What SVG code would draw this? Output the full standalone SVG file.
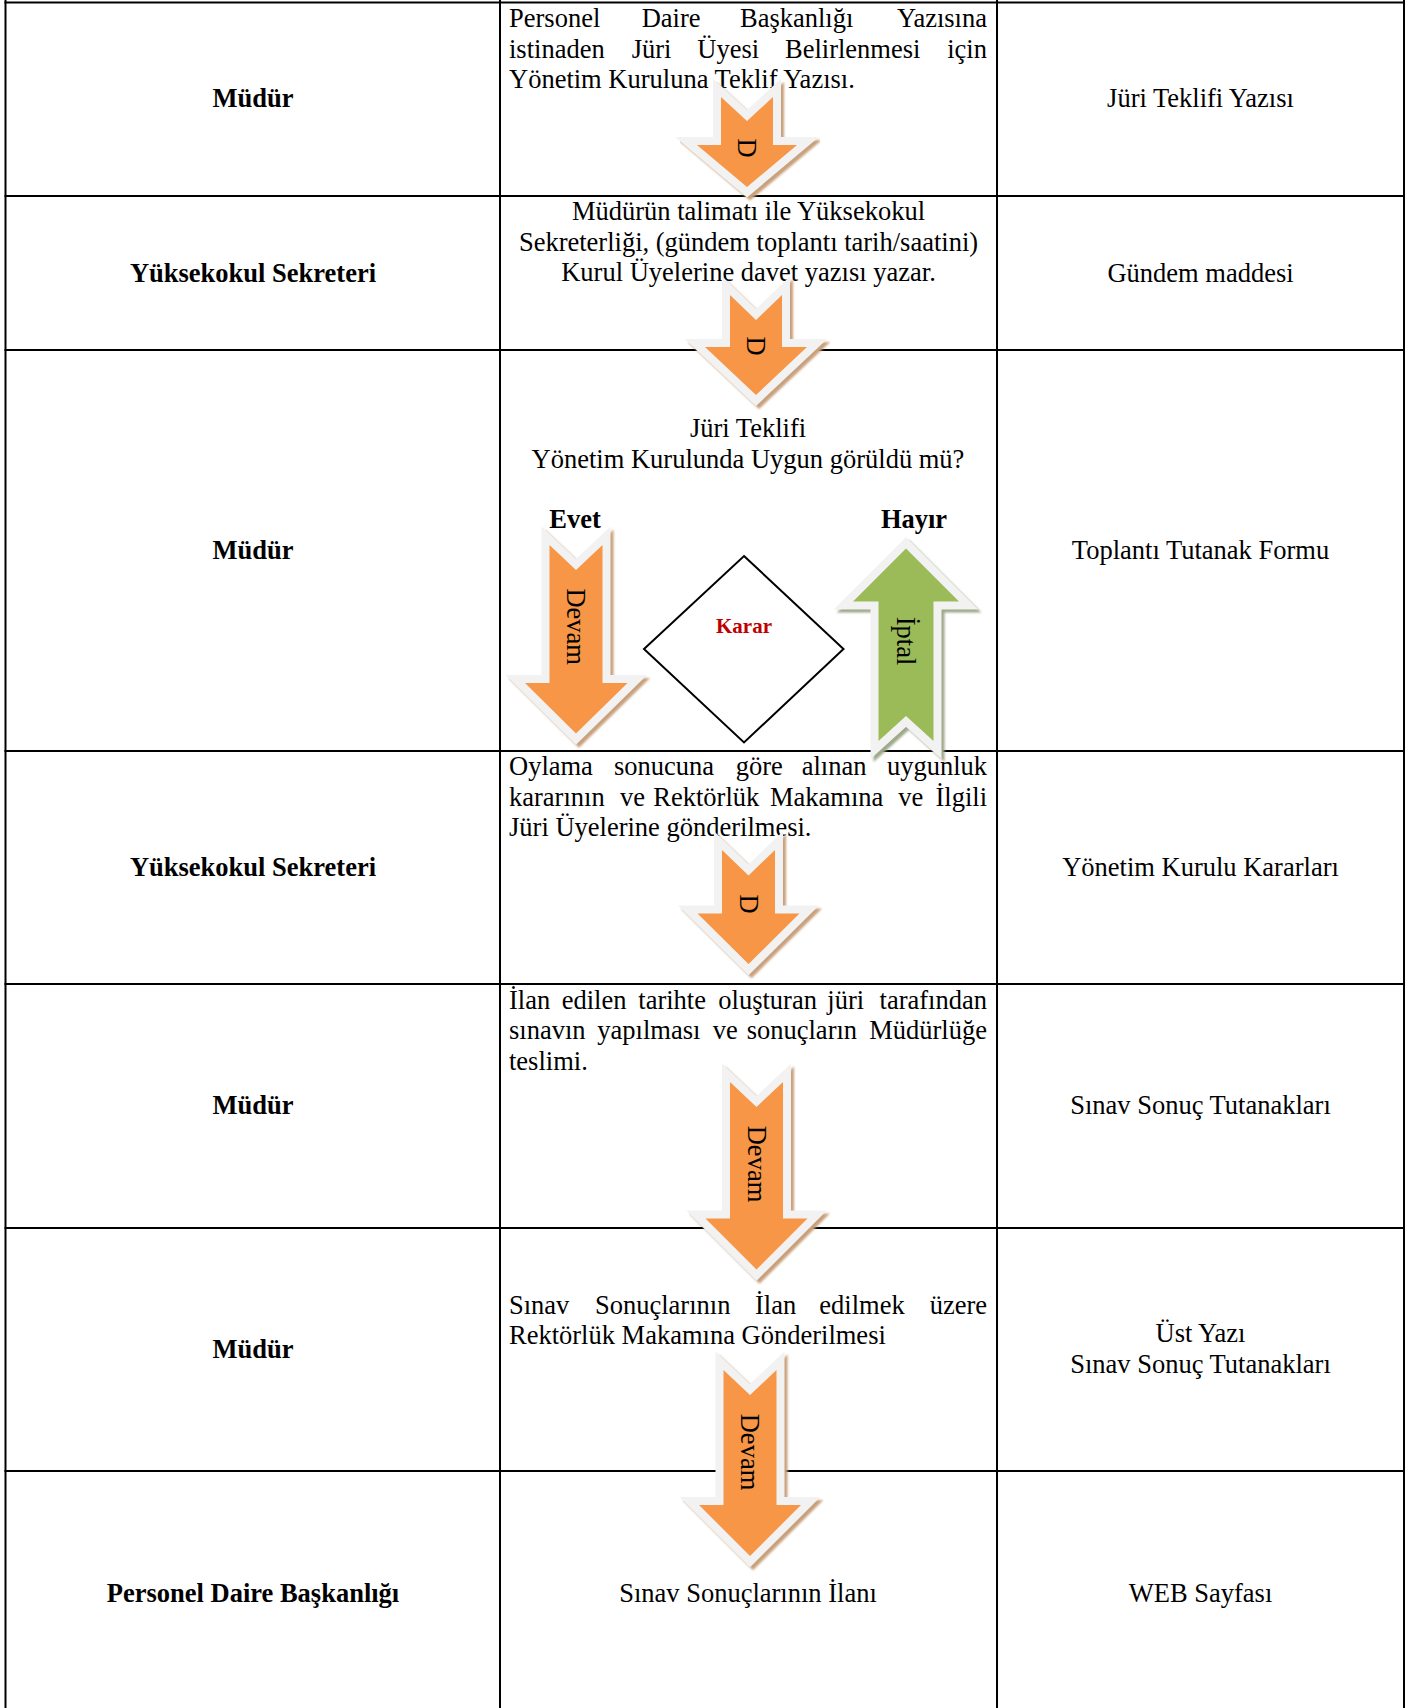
<svg xmlns="http://www.w3.org/2000/svg" width="1417" height="1708" viewBox="0 0 1417 1708">
<style>
  text { font-family: "Liberation Serif", "Times New Roman", serif; font-size: 26.5px; fill: #000; }
  .b { font-weight: bold; }
  .c { text-anchor: middle; }
  .e { text-anchor: end; }
  .grid line { stroke: #000; stroke-width: 2; }
  .rimO { fill: #f2f2f2; stroke: #f2f2f2; stroke-width: 16; stroke-linejoin: miter; }
  .shO { fill: #c9a07c; stroke: #c9a07c; stroke-width: 16; stroke-linejoin: miter; }
  .bodyO { fill: #f79646; }
  .shG { fill: #9ea98a; stroke: #9ea98a; stroke-width: 16; stroke-linejoin: miter; }
  .bodyG { fill: #9bbb59; }
  .karar { font-size: 21px; font-weight: bold; fill: #c00000; }
</style>
<defs>
  <filter id="soft" x="-20%" y="-20%" width="140%" height="140%">
    <feGaussianBlur stdDeviation="1"/>
  </filter>
</defs>
<rect width="1417" height="1708" fill="#fff"/>

<g id="grid" class="grid">
  <line x1="5.5" y1="0" x2="5.5" y2="1708"/>
  <line x1="500" y1="0" x2="500" y2="1708"/>
  <line x1="997" y1="0" x2="997" y2="1708"/>
  <line x1="1404" y1="0" x2="1404" y2="1708"/>
  <line x1="4.5" y1="2.5" x2="1405" y2="2.5"/>
  <line x1="4.5" y1="196" x2="1405" y2="196"/>
  <line x1="4.5" y1="350" x2="1405" y2="350"/>
  <line x1="4.5" y1="751" x2="1405" y2="751"/>
  <line x1="4.5" y1="984" x2="1405" y2="984"/>
  <line x1="4.5" y1="1228" x2="1405" y2="1228"/>
  <line x1="4.5" y1="1471" x2="1405" y2="1471"/>
</g>

<g id="roles">
  <text id="role1" class="b c" x="253" y="107">Müdür</text>
  <text id="role2" class="b c" x="253" y="281.5">Yüksekokul Sekreteri</text>
  <text id="role3" class="b c" x="253" y="559">Müdür</text>
  <text id="role4" class="b c" x="253" y="876">Yüksekokul Sekreteri</text>
  <text id="role5" class="b c" x="253" y="1114">Müdür</text>
  <text id="role6" class="b c" x="253" y="1358">Müdür</text>
  <text id="role7" class="b c" x="253" y="1602">Personel Daire Başkanlığı</text>
</g>

<g id="docs">
  <text id="doc1" class="c" x="1200.5" y="107">Jüri Teklifi Yazısı</text>
  <text id="doc2" class="c" x="1200.5" y="281.5">Gündem maddesi</text>
  <text id="doc3" class="c" x="1200.5" y="559">Toplantı Tutanak Formu</text>
  <text id="doc4" class="c" x="1200.5" y="876">Yönetim Kurulu Kararları</text>
  <text id="doc5" class="c" x="1200.5" y="1114">Sınav Sonuç Tutanakları</text>
  <g id="doc6">
    <text class="c" x="1200.5" y="1342">Üst Yazı</text>
    <text class="c" x="1200.5" y="1373">Sınav Sonuç Tutanakları</text>
  </g>
  <text id="doc7" class="c" x="1200.5" y="1602">WEB Sayfası</text>
</g>

<g id="step1">
  <text y="27"><tspan x="509">Personel</tspan><tspan x="641.7">Daire</tspan><tspan x="740">Başkanlığı</tspan></text>
  <text class="e" x="987" y="27">Yazısına</text>
  <text y="57.5"><tspan x="509">istinaden</tspan><tspan x="631.7">Jüri</tspan><tspan x="697.3">Üyesi</tspan><tspan x="785">Belirlenmesi</tspan></text>
  <text class="e" x="987" y="57.5">için</text>
  <text x="509" y="88">Yönetim Kuruluna Teklif Yazısı.</text>
</g>

<g id="step2">
  <text class="c" x="748.5" y="220">Müdürün talimatı ile Yüksekokul</text>
  <text class="c" x="748.5" y="250.5">Sekreterliği, (gündem toplantı tarih/saatini)</text>
  <text class="c" x="748.5" y="281">Kurul Üyelerine davet yazısı yazar.</text>
</g>

<g id="step3">
  <text class="c" x="748" y="436.7">Jüri Teklifi</text>
  <text class="c" x="748" y="467.7">Yönetim Kurulunda Uygun görüldü mü?</text>
  <text class="b c" x="575" y="528.3">Evet</text>
  <text class="b c" x="914" y="528.3">Hayır</text>
</g>

<g id="decision">
  <polygon points="744,556 843.5,649 744,742.5 644,649" fill="#fff" stroke="#000" stroke-width="2"/>
  <text class="karar c" x="744" y="633">Karar</text>
</g>

<g id="step4">
  <text y="775"><tspan x="509">Oylama</tspan><tspan x="614">sonucuna</tspan><tspan x="735.7">göre</tspan><tspan x="801.7">alınan</tspan></text>
  <text class="e" x="987" y="775">uygunluk</text>
  <text y="805.5"><tspan x="509">kararının</tspan><tspan x="620">ve</tspan><tspan x="653.3">Rektörlük</tspan><tspan x="770">Makamına</tspan><tspan x="898.3">ve</tspan></text>
  <text class="e" x="987" y="805.5">İlgili</text>
  <text x="509" y="836">Jüri Üyelerine gönderilmesi.</text>
</g>

<g id="step5">
  <text y="1008.5"><tspan x="509">İlan</tspan><tspan x="561.7">edilen</tspan><tspan x="638.3">tarihte</tspan><tspan x="718.3">oluşturan</tspan><tspan x="827.3">jüri</tspan></text>
  <text class="e" x="987" y="1008.5">tarafından</text>
  <text y="1039"><tspan x="509">sınavın</tspan><tspan x="597.3">yapılması</tspan><tspan x="712.7">ve</tspan><tspan x="746.7">sonuçların</tspan></text>
  <text class="e" x="987" y="1039">Müdürlüğe</text>
  <text x="509" y="1070">teslimi.</text>
</g>

<g id="step6">
  <text y="1313.5"><tspan x="509">Sınav</tspan><tspan x="595">Sonuçlarının</tspan><tspan x="755">İlan</tspan><tspan x="819.3">edilmek</tspan></text>
  <text class="e" x="987" y="1313.5">üzere</text>
  <text x="509" y="1344">Rektörlük Makamına Gönderilmesi</text>
</g>

<g id="step7">
  <text class="c" x="748" y="1602">Sınav Sonuçlarının İlanı</text>
</g>

<g id="connectors">
  <g id="arrow1">
    <path class="shO" filter="url(#soft)" transform="translate(3,3)" d="M721,97 L747,121 L773,97 L773,145 L797,145 L747,187 L697,145 L721,145 Z"/>
    <path class="rimO" d="M721,97 L747,121 L773,97 L773,145 L797,145 L747,187 L697,145 L721,145 Z"/>
    <path class="bodyO" d="M721,97 L747,121 L773,97 L773,145 L797,145 L747,187 L697,145 L721,145 Z"/>
    <text transform="translate(747,148) rotate(90)" class="c" x="0" y="8.7">D</text>
  </g>
  <g id="arrow2">
    <path class="shO" filter="url(#soft)" transform="translate(3,3)" d="M730,295 L756,320 L782,295 L782,347 L807,347 L756,395 L705,347 L730,347 Z"/>
    <path class="rimO" d="M730,295 L756,320 L782,295 L782,347 L807,347 L756,395 L705,347 L730,347 Z"/>
    <path class="bodyO" d="M730,295 L756,320 L782,295 L782,347 L807,347 L756,395 L705,347 L730,347 Z"/>
    <text transform="translate(756,346) rotate(90)" class="c" x="0" y="8.7">D</text>
  </g>
  <g id="arrow3">
    <path class="shO" filter="url(#soft)" transform="translate(3,3)" d="M549.5,545 L576,570 L602.5,545 L602.5,683 L627.5,683 L576,733.5 L525,683 L549.5,683 Z"/>
    <path class="rimO" d="M549.5,545 L576,570 L602.5,545 L602.5,683 L627.5,683 L576,733.5 L525,683 L549.5,683 Z"/>
    <path class="bodyO" d="M549.5,545 L576,570 L602.5,545 L602.5,683 L627.5,683 L576,733.5 L525,683 L549.5,683 Z"/>
    <text transform="translate(576,626.7) rotate(90)" class="c" x="0" y="8.7">Devam</text>
  </g>
  <g id="arrow-iptal">
    <path class="shG" filter="url(#soft)" transform="translate(3,3)" d="M906,548.5 L959,601.5 L933.5,601.5 L933.5,741 L906,716 L878.5,741 L878.5,601.5 L853,601.5 Z"/>
    <path class="rimO" d="M906,548.5 L959,601.5 L933.5,601.5 L933.5,741 L906,716 L878.5,741 L878.5,601.5 L853,601.5 Z"/>
    <path class="bodyG" d="M906,548.5 L959,601.5 L933.5,601.5 L933.5,741 L906,716 L878.5,741 L878.5,601.5 L853,601.5 Z"/>
    <text transform="translate(906,641) rotate(90)" class="c" x="0" y="8.7">İptal</text>
  </g>
  <g id="arrow4">
    <path class="shO" filter="url(#soft)" transform="translate(3,3)" d="M722,850 L748.5,875.5 L775,850 L775,913.5 L799.5,913.5 L748.5,964 L697.5,913.5 L722,913.5 Z"/>
    <path class="rimO" d="M722,850 L748.5,875.5 L775,850 L775,913.5 L799.5,913.5 L748.5,964 L697.5,913.5 L722,913.5 Z"/>
    <path class="bodyO" d="M722,850 L748.5,875.5 L775,850 L775,913.5 L799.5,913.5 L748.5,964 L697.5,913.5 L722,913.5 Z"/>
    <text transform="translate(748.5,904) rotate(90)" class="c" x="0" y="8.7">D</text>
  </g>
  <g id="arrow5">
    <path class="shO" filter="url(#soft)" transform="translate(3,3)" d="M730,1082 L756.5,1107 L783,1082 L783,1218.5 L807.5,1218.5 L756.5,1269.5 L705.5,1218.5 L730,1218.5 Z"/>
    <path class="rimO" d="M730,1082 L756.5,1107 L783,1082 L783,1218.5 L807.5,1218.5 L756.5,1269.5 L705.5,1218.5 L730,1218.5 Z"/>
    <path class="bodyO" d="M730,1082 L756.5,1107 L783,1082 L783,1218.5 L807.5,1218.5 L756.5,1269.5 L705.5,1218.5 L730,1218.5 Z"/>
    <text transform="translate(756.5,1164) rotate(90)" class="c" x="0" y="8.7">Devam</text>
  </g>
  <g id="arrow6">
    <path class="shO" filter="url(#soft)" transform="translate(3,3)" d="M723.5,1370 L750,1395 L776.5,1370 L776.5,1505 L801,1505 L750,1556 L699,1505 L723.5,1505 Z"/>
    <path class="rimO" d="M723.5,1370 L750,1395 L776.5,1370 L776.5,1505 L801,1505 L750,1556 L699,1505 L723.5,1505 Z"/>
    <path class="bodyO" d="M723.5,1370 L750,1395 L776.5,1370 L776.5,1505 L801,1505 L750,1556 L699,1505 L723.5,1505 Z"/>
    <text transform="translate(750,1452) rotate(90)" class="c" x="0" y="8.7">Devam</text>
  </g>
</g>
</svg>
